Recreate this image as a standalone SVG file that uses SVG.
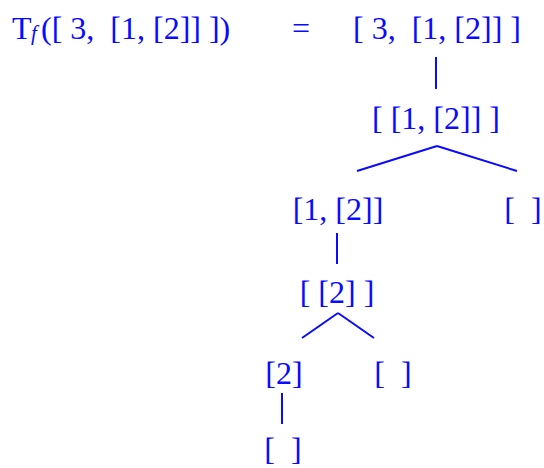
<svg xmlns="http://www.w3.org/2000/svg" width="544" height="468" viewBox="0 0 544 468">
<style>
text{font-family:"Liberation Serif","Times New Roman",serif;font-size:32px;fill:#0a0aff;white-space:pre}
.n text{text-anchor:middle}
.sub{font-size:21px;font-style:italic}
#connectors line{stroke:#0a0aff;stroke-width:2;stroke-linecap:butt}
</style>
<rect width="544" height="468" fill="#fff"/>
<g id="equation">
<text x="12" y="39" xml:space="preserve">T</text>
<text class="sub" x="31" y="40">f</text>
<text x="41" y="39" xml:space="preserve">([ 3,  [1, [2]] ])</text>
<text x="292" y="39">=</text>
</g>
<g id="connectors">
<line x1="436" y1="57" x2="436" y2="89"/>
<line x1="357" y1="171" x2="437" y2="146"/>
<line x1="437" y1="146" x2="517" y2="171"/>
<line x1="337" y1="233" x2="337" y2="264"/>
<line x1="302" y1="338" x2="338" y2="313"/>
<line x1="338" y1="313" x2="374" y2="338"/>
<line x1="282" y1="393" x2="282" y2="424"/>
</g>
<g id="n0" class="n"><text x="437" y="39" xml:space="preserve">[ 3,  [1, [2]] ]</text></g>
<g id="n1" class="n"><text x="436" y="129" xml:space="preserve">[ [1, [2]] ]</text></g>
<g id="n2" class="n"><text x="338" y="220" xml:space="preserve">[1, [2]]</text></g>
<g id="n3" class="n"><text x="523" y="220" xml:space="preserve">[  ]</text></g>
<g id="n4" class="n"><text x="337" y="303" xml:space="preserve">[ [2] ]</text></g>
<g id="n5" class="n"><text x="284" y="384" xml:space="preserve">[2]</text></g>
<g id="n6" class="n"><text x="393" y="384" xml:space="preserve">[  ]</text></g>
<g id="n7" class="n"><text x="283" y="460" xml:space="preserve">[  ]</text></g>
</svg>
